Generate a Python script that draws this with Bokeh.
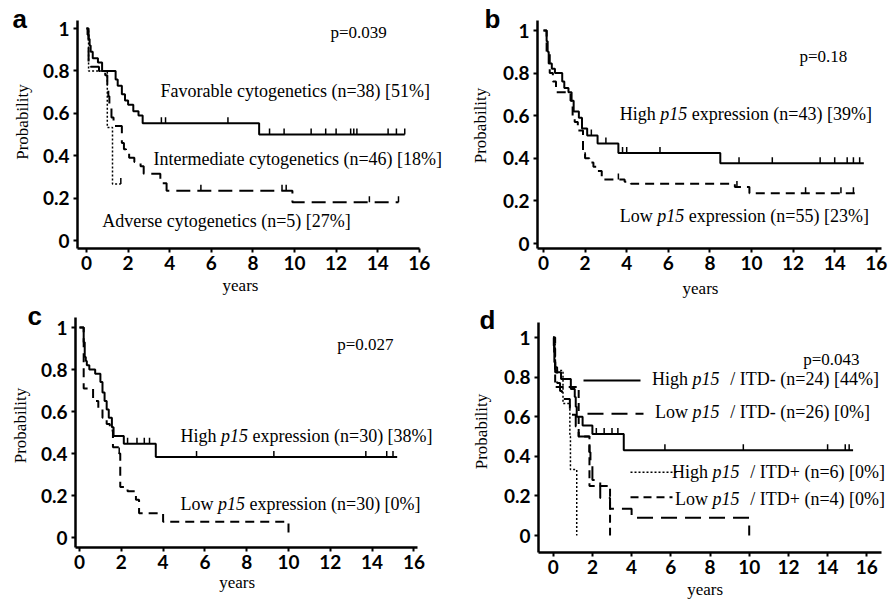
import math
from bokeh.plotting import figure
from bokeh.layouts import row, column
from bokeh.models import Range1d, FixedTicker, Label
from bokeh.embed import file_html
from bokeh.resources import INLINE

# ---------------- data ----------------
X_TICKS = [0, 2, 4, 6, 8, 10, 12, 14, 16]
Y_TICKS = [0, 0.2, 0.4, 0.6, 0.8, 1.0]
Y_TICK_LABELS = ["0", "0.2", "0.4", "0.6", "0.8", "1"]

# panel a
A_FAV_T = [0, 0.05, 0.1, 0.15, 0.2, 0.3, 0.55, 0.75, 1.4, 1.5, 1.7, 1.85, 2.0, 2.25, 2.5, 2.7, 8.3]
A_FAV_S = [1.0, 0.97, 0.95, 0.92, 0.89, 0.86, 0.84, 0.80, 0.76, 0.73, 0.69, 0.66, 0.64, 0.61, 0.59, 0.553, 0.50]
A_FAV_END = 15.3
A_FAV_CENS = [3.6, 3.8, 6.8, 8.8, 9.5, 10.8, 11.5, 12.0, 12.7, 12.85, 13.0, 14.5, 14.9, 15.3]
A_INT_T = [0, 0.1, 0.2, 0.6, 0.9, 1.0, 1.05, 1.1, 1.2, 1.3, 1.7, 1.8, 1.9, 2.05, 2.3, 2.6, 2.75, 3.55, 3.85, 9.9]
A_INT_S = [1.0, 0.84, 0.82, 0.80, 0.78, 0.73, 0.68, 0.63, 0.58, 0.54, 0.46, 0.43, 0.41, 0.39, 0.37, 0.35, 0.315, 0.27, 0.235, 0.18]
A_INT_END = 15.0
A_INT_CENS = [5.5, 9.4, 9.6, 13.6, 15.0]
A_ADV_T = [0, 0.1, 1.0, 1.25]
A_ADV_S = [1.0, 0.8, 0.533, 0.267]
A_ADV_END = 1.65
A_ADV_CENS = [1.65]

# panel b
B_HIGH_T = [0, 0.15, 0.2, 0.25, 0.4, 0.55, 0.9, 1.0, 1.2, 1.35, 1.45, 1.7, 1.85, 2.1, 2.6, 3.6, 8.5]
B_HIGH_S = [1.0, 0.95, 0.90, 0.845, 0.82, 0.80, 0.76, 0.73, 0.71, 0.67, 0.62, 0.59, 0.54, 0.507, 0.47, 0.425, 0.377]
B_HIGH_END = 15.4
B_HIGH_CENS = [2.3, 3.0, 3.8, 4.0, 5.6, 9.4, 11.0, 13.3, 14.0, 14.6, 14.9, 15.2]
B_LOW_T = [0, 0.15, 0.3, 0.45, 0.6, 1.3, 1.4, 1.5, 1.65, 1.9, 2.0, 2.2, 2.4, 2.6, 2.8, 3.9, 4.2, 9.2, 9.9]
B_LOW_S = [1.0, 0.90, 0.80, 0.76, 0.71, 0.67, 0.59, 0.57, 0.53, 0.42, 0.40, 0.38, 0.36, 0.34, 0.30, 0.29, 0.28, 0.265, 0.236]
B_LOW_END = 15.2
B_LOW_CENS = [2.0, 3.6, 9.3, 12.6, 14.3, 14.9]

# panel c
C_HIGH_T = [0, 0.2, 0.25, 0.3, 0.35, 0.47, 0.75, 1.0, 1.1, 1.2, 1.3, 1.4, 1.55, 1.63, 2.12, 3.65]
C_HIGH_S = [1.0, 0.93, 0.86, 0.84, 0.82, 0.80, 0.78, 0.74, 0.69, 0.65, 0.61, 0.57, 0.525, 0.483, 0.446, 0.383]
C_HIGH_END = 15.2
C_HIGH_CENS = [2.3, 2.75, 3.1, 3.35, 5.6, 9.3, 13.7, 14.7, 15.0]
C_LOW_T = [0, 0.2, 0.65, 0.9, 1.1, 1.3, 1.45, 1.6, 1.9, 1.95, 2.3, 2.7, 2.85, 4.0, 10.0]
C_LOW_S = [1.0, 0.71, 0.65, 0.61, 0.57, 0.54, 0.51, 0.43, 0.40, 0.24, 0.22, 0.18, 0.115, 0.075, 0.0]
C_LOW_END = 10.0
C_LOW_CENS = [1.9]

# panel d
D_HN_T = [0, 0.03, 0.06, 0.1, 0.4, 0.9, 1.1, 1.15, 1.2, 1.5, 2.0, 3.6]
D_HN_S = [1.0, 0.958, 0.875, 0.825, 0.79, 0.74, 0.70, 0.65, 0.60, 0.555, 0.513, 0.43]
D_HN_END = 15.3
D_HN_CENS = [2.2, 2.6, 3.0, 3.3, 5.7, 9.7, 14.0, 14.9, 15.1]
D_LN_T = [0, 0.05, 0.1, 0.2, 0.35, 0.45, 0.85, 1.15, 1.3, 1.85, 1.9, 2.0, 2.4, 2.9, 4.0, 10.0]
D_LN_S = [1.0, 0.92, 0.85, 0.77, 0.73, 0.69, 0.61, 0.55, 0.50, 0.42, 0.35, 0.28, 0.19, 0.135, 0.09, 0.0]
D_LN_END = 10.0
D_LN_CENS = []
D_HP_T = [0, 0.1, 0.5, 0.85, 0.88, 1.2]
D_HP_S = [1.0, 0.833, 0.667, 0.5, 0.333, 0.0]
D_HP_END = 1.2
D_HP_CENS = []
D_LP_T = [0, 0.1, 1.3, 1.85, 2.9]
D_LP_S = [1.0, 0.75, 0.5, 0.25, 0.0]
D_LP_END = 2.9
D_LP_CENS = []

# ---------------- layout geometry (page pixels, origin = page top-left) ----------------
# fig = (left, top, width, height); axes = (y-axis x, x-axis y, x-axis right end, y-axis top)
# map = (page x of year 0, px per year, page y of prob 0, px per unit prob)
G = {
    "a": dict(fig=(0, 0, 448, 300), axes=(77, 248, 419, 20), map=(86.0, 20.8, 240.0, 212.0)),
    "b": dict(fig=(448, 0, 448, 300), axes=(537, 248, 881, 20), map=(543.0, 20.8, 243.0, 213.0)),
    "c": dict(fig=(0, 300, 448, 301), axes=(75, 547, 417, 317), map=(79.0, 20.9, 537.0, 210.0)),
    "d": dict(fig=(448, 300, 447, 301), axes=(538, 552, 881, 322), map=(552.7, 19.6, 535.0, 198.0)),
}

SERIF = "Liberation Serif"
TXT = "18px"
BASE_SHIFT = 0.37  # em: renderer places the alphabetic baseline this much lower


def dx(g, px):
    x0, sx, y0, sy = g["map"]
    return (px - x0) / sx


def dy(g, py):
    x0, sx, y0, sy = g["map"]
    return (y0 - py) / sy


def make_fig(g):
    ox, oy, w, h = g["fig"]
    yl, xl, xr, yt = g["axes"]
    p = figure(width=w, height=h,
               x_range=Range1d(dx(g, ox), dx(g, ox + w)), y_range=Range1d(dy(g, oy + h), dy(g, oy)),
               min_border=0, title_location=None,
               output_backend="svg", toolbar_location=None, tools="")
    p.outline_line_color = None
    p.xgrid.visible = False
    p.ygrid.visible = False
    p.background_fill_color = "white"
    p.border_fill_color = "white"
    p.xaxis.ticker = FixedTicker(ticks=X_TICKS)
    p.yaxis.ticker = FixedTicker(ticks=Y_TICKS)
    p.yaxis.major_label_overrides = {t: l for t, l in zip(Y_TICKS, Y_TICK_LABELS)}
    p.xaxis.fixed_location = dy(g, xl)
    p.yaxis.fixed_location = dx(g, yl)
    p.xaxis.bounds = (dx(g, yl), dx(g, xr))
    p.yaxis.bounds = (dy(g, xl), dy(g, yt))
    for ax in (p.xaxis, p.yaxis):
        ax.axis_line_width = 2.5
        ax.axis_line_color = "black"
        ax.major_tick_line_width = 2
        ax.major_tick_line_color = "black"
        ax.major_tick_out = 4
        ax.major_tick_in = 0
        ax.minor_tick_out = 0
        ax.minor_tick_in = 0
        ax.major_label_text_font = "Lato"
        ax.major_label_text_font_style = "bold"
        ax.major_label_text_font_size = "19px"
        ax.major_label_text_color = "black"
    p.xaxis.major_label_standoff = 3
    p.yaxis.major_label_standoff = 4
    return p


def surv_at(ts, ss, c):
    v = ss[0]
    for t, s in zip(ts, ss):
        if t <= c:
            v = s
    return v


def add_curve(p, g, ts, ss, end, cens, dash="solid", width=2.0):
    xs = list(ts) + [end]
    ys = list(ss) + [ss[-1]]
    p.step(xs, ys, mode="after", line_color="black", line_width=width, line_dash=dash)
    if cens:
        cy = [surv_at(ts, ss, c) for c in cens]
        h = 6.0 / g["map"][3]
        p.segment(x0=cens, y0=cy, x1=cens, y1=[v + h for v in cy], line_color="black", line_width=1.5)


def add_text(p, g, px, py, text, size=18.0, font=SERIF, style="normal", align="left",
             baseline="alphabetic", angle=0.0):
    if baseline == "alphabetic":
        py = py - BASE_SHIFT * size
    p.add_layout(Label(x=dx(g, px), y=dy(g, py), text=text, text_font=font,
                       text_font_style=style, text_font_size="%.1fpx" % size, text_align=align,
                       text_baseline=baseline, angle=angle, text_color="black"))


def add_p15(p, g, ix, by, prefix, rest, size=18.0, gap=0.25):
    add_text(p, g, ix - 0.25 * size, by, prefix, size=size, align="right")
    add_text(p, g, ix, by, "p15", size=size, style="italic")
    add_text(p, g, ix + 1.5 * size + gap * size, by, rest, size=size)


def frame_labels(p, g, letter, lpos, ppos, ypos):
    add_text(p, g, lpos[0], lpos[1], letter, size=26, font="Liberation Sans", style="bold")
    add_text(p, g, ppos[0], ppos[1], "Probability", size=17, align="center",
             baseline="middle", angle=math.pi / 2)
    add_text(p, g, ypos[0], ypos[1], "years", size=17, align="center")


# ---------------- panel a ----------------
ga = G["a"]
pa = make_fig(ga)
add_curve(pa, ga, A_FAV_T, A_FAV_S, A_FAV_END, A_FAV_CENS)
add_curve(pa, ga, A_INT_T, A_INT_S, A_INT_END, A_INT_CENS, dash="14 7")
add_curve(pa, ga, A_ADV_T, A_ADV_S, A_ADV_END, A_ADV_CENS, dash="2 2", width=1.5)
frame_labels(pa, ga, "a", (12, 28), (21.7, 121.5), (240, 291))
add_text(pa, ga, 330, 38, "p=0.039", size=17)
add_text(pa, ga, 160, 97, "Favorable cytogenetics (n=38) [51%]")
add_text(pa, ga, 153, 165, "Intermediate cytogenetics (n=46) [18%]")
add_text(pa, ga, 101.7, 227, "Adverse cytogenetics (n=5) [27%]")

# ---------------- panel b ----------------
gb = G["b"]
pb = make_fig(gb)
add_curve(pb, gb, B_HIGH_T, B_HIGH_S, B_HIGH_END, B_HIGH_CENS)
add_curve(pb, gb, B_LOW_T, B_LOW_S, B_LOW_END, B_LOW_CENS, dash="9 6")
frame_labels(pb, gb, "b", (484, 28), (480, 125), (700, 294))
add_text(pb, gb, 799, 62, "p=0.18", size=17)
add_p15(pb, gb, 659.8, 120, "High", "expression (n=43) [39%]")
add_p15(pb, gb, 656.8, 222, "Low", "expression (n=55) [23%]")

# ---------------- panel c ----------------
gc = G["c"]
pc = make_fig(gc)
add_curve(pc, gc, C_HIGH_T, C_HIGH_S, C_HIGH_END, C_HIGH_CENS)
add_curve(pc, gc, C_LOW_T, C_LOW_S, C_LOW_END, C_LOW_CENS, dash="9 6")
frame_labels(pc, gc, "c", (27, 325), (20, 425), (236.7, 588))
add_text(pc, gc, 336.7, 350, "p=0.027", size=17)
add_p15(pc, gc, 220.5, 442, "High", "expression (n=30) [38%]")
add_p15(pc, gc, 217.5, 510, "Low", "expression (n=30) [0%]")

# ---------------- panel d ----------------
gd = G["d"]
pd_ = make_fig(gd)
add_curve(pd_, gd, D_HN_T, D_HN_S, D_HN_END, D_HN_CENS)
add_curve(pd_, gd, D_LN_T, D_LN_S, D_LN_END, D_LN_CENS, dash="16 8")
add_curve(pd_, gd, D_HP_T, D_HP_S, D_HP_END, D_HP_CENS, dash="2 2", width=1.5)
add_curve(pd_, gd, D_LP_T, D_LP_S, D_LP_END, D_LP_CENS, dash="8 5")
frame_labels(pd_, gd, "d", (479, 329), (481, 431), (704.7, 595))
add_text(pd_, gd, 802.7, 365, "p=0.043", size=17)
# legend samples
LEG = [((583, 640), 380, "solid", 2.0), ((587, 643), 413.3, "16 8", 2.0),
       ((630, 677), 471.7, "2 2", 1.5), ((630, 672), 496.7, "8 5", 2.0)]
for (xa, xb), yy, dsh, lw in LEG:
    pd_.line([dx(gd, xa), dx(gd, xb)], [dy(gd, yy), dy(gd, yy)], line_color="black",
             line_width=lw, line_dash=dsh)
add_p15(pd_, gd, 692, 385, "High", "/ ITD- (n=24) [44%]", gap=0.6)
add_p15(pd_, gd, 692, 418, "Low", "/ ITD- (n=26) [0%]", gap=0.6)
add_p15(pd_, gd, 712, 478, "High", "/ ITD+ (n=6) [0%]", gap=0.6)
add_p15(pd_, gd, 712, 505, "Low", "/ ITD+ (n=4) [0%]", gap=0.6)

layout = column(row(pa, pb), row(pc, pd_))
open("out.html", "w").write(file_html(layout, INLINE))
